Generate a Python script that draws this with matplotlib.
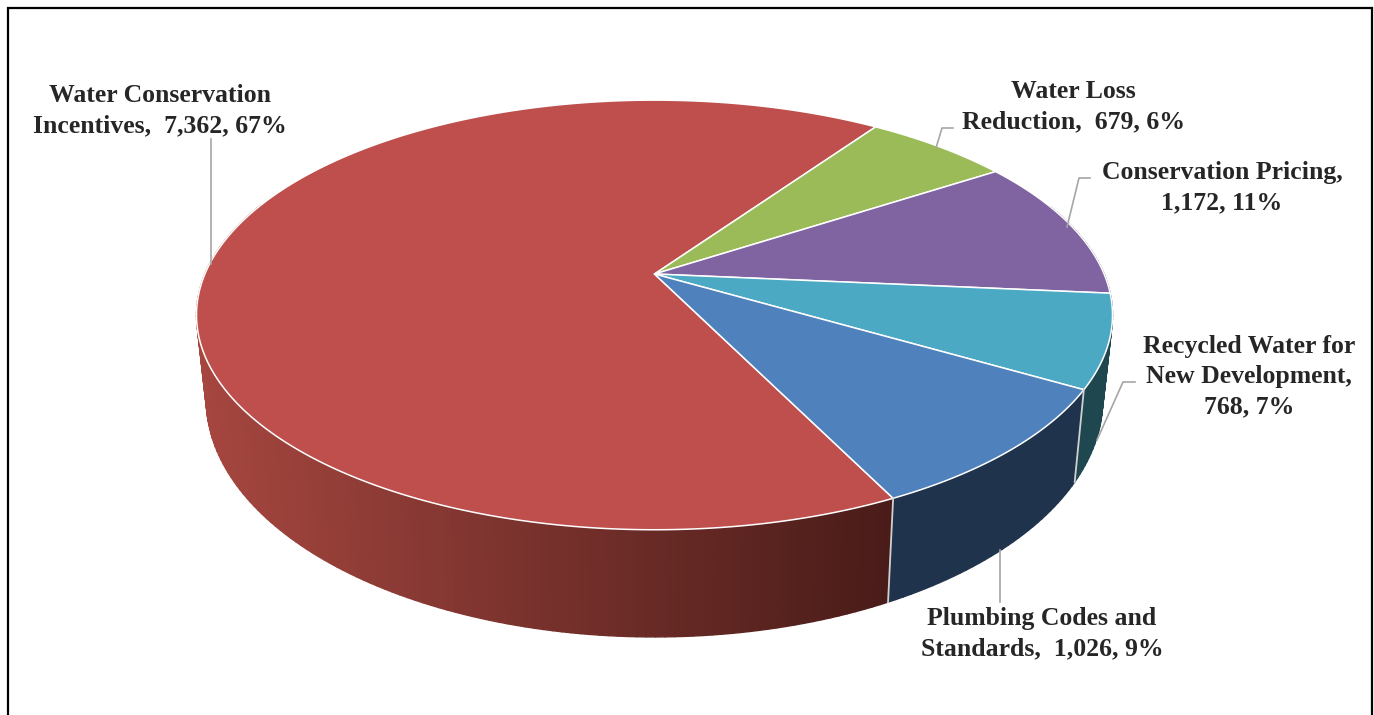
# coding: utf-8

r"""Water savings by measure, drawn as a tilted 3D pie"""

import numpy as np
import matplotlib.pyplot as plt
from matplotlib.colors import LinearSegmentedColormap

# clockwise order, the first slice starts at START_ANGLE
names = ["Water Conservation\nIncentives,  ", "Water Loss\nReduction,  ",
         "Conservation Pricing,\n", "Recycled Water for\nNew Development,\n",
         "Plumbing Codes and\nStandards,  "]
values = [7362, 679, 1172, 768, 1026]
top_colors = ["#BE4F4C", "#9BBB59", "#8064A2", "#4BA9C4", "#4F81BD"]
wall_colors = [None, "#5F7538", "#4D3C62", "#1F474F", "#1F334D"]
label_centers = [(160, 111), (1073, 107), (1222, 188), (1249, 377), (1042, 634)]
leaders = [[(211, 139), (211, 264)],
           [(953, 128), (942, 128), (936, 148)],
           [(1090, 178), (1079, 178), (1067, 227)],
           [(1135, 382), (1123, 382), (1097, 440)],
           [(1000, 550), (1000, 602)]]

START_ANGLE = -63.9  # degrees, counterclockwise from the x axis
CENTER_X = 654.5
TILT = 0.1906  # perspective strength
# apex y, x scale, y scale of the upper and lower rim, in pixels
UPPER = (274.0, 449.6, 207.0)
LOWER = (354.0, 440.0, 229.0)

red_wall = LinearSegmentedColormap.from_list("red_wall", ["#A5463F", "#4A1C19"])


def rim(theta, apex_y, scale_x, scale_y):
    r"""Project points of the unit circle onto the picture (theta in degrees)"""
    u = np.cos(np.radians(theta))
    v = np.sin(np.radians(theta))
    w = 1 + TILT * v
    return CENTER_X + scale_x * u / w, apex_y - scale_y * v / w


fig = plt.figure(figsize=(13.74, 7.15), dpi=100)
ax = fig.add_axes([0, 0, 1, 1])
ax.set_xlim(0, 1374)
ax.set_ylim(715, 0)
ax.axis("off")

# frame, open at the bottom as in the cropped original
ax.plot([8, 8, 1371.5, 1371.5], [716, 8, 8, 716], color="black",
        lw=1.6, solid_joinstyle="miter")

for line in leaders:
    xs, ys = zip(*line)
    ax.plot(xs, ys, color="#A6A6A6", lw=1.2)

sweeps = 360.0 * np.array(values) / sum(values)
stops = START_ANGLE - np.cumsum(sweeps)
starts = stops + sweeps

# walls, back to front so the near ones cover the far ones
strips = []
for i in range(len(values)):
    edges = np.linspace(starts[i], stops[i], int(sweeps[i]) + 2)
    for t0, t1 in zip(edges[:-1], edges[1:]):
        strips.append((np.sin(np.radians((t0 + t1) / 2)), t0, t1, i))
for v, t0, t1, i in sorted(strips, key=lambda s: -s[0]):
    if v > 0.35:
        continue
    x0, y0 = rim(t0, *UPPER)
    x1, y1 = rim(t1, *UPPER)
    x2, y2 = rim(t1, *LOWER)
    x3, y3 = rim(t0, *LOWER)
    if wall_colors[i] is None:
        color = red_wall(np.clip(((x0 + x1) / 2 - 200) / 688, 0, 1))
    else:
        color = wall_colors[i]
    ax.fill([x0, x1, x2, x3], [y0, y1, y2, y3], color=color, lw=1.0,
            joinstyle="round")

# seams between the front walls
for t in [starts[0], stops[3]]:
    xu, yu = rim(t, *UPPER)
    xl, yl = rim(t, *LOWER)
    ax.plot([xu, xl], [yu, yl], color="#D0D0D0", lw=1.3)

# top faces
for i in range(len(values)):
    theta = np.linspace(starts[i], stops[i], int(sweeps[i]) * 2 + 2)
    xs, ys = rim(theta, *UPPER)
    ax.fill(np.r_[CENTER_X, xs], np.r_[UPPER[0], ys], facecolor=top_colors[i],
            edgecolor="white", lw=1.1, joinstyle="round")

total = sum(values)
for name, value, (x, y) in zip(names, values, label_centers):
    text = "{}{:,}, {:.0f}%".format(name, value, 100.0 * value / total)
    ax.text(x, y, text, ha="center", va="center", ma="center",
            family="Liberation Serif", weight="bold", size=18.5,
            color="#262626", linespacing=1.4)

fig.savefig("out.png", dpi=100, facecolor="white")
